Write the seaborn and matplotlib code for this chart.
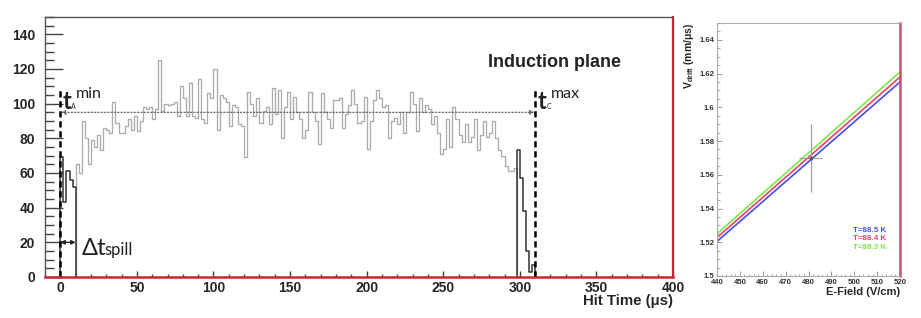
import numpy as np
import pandas as pd
import matplotlib
matplotlib.use("Agg")
import matplotlib.pyplot as plt
from matplotlib.ticker import MultipleLocator, FuncFormatter
import seaborn as sns

# ---------------- data ----------------
bin_width = 2.0  # microseconds
# spill region at start (0-10 us), black
spill_start = 0.0
spill_counts = [69, 43, 61, 56, 52]
# drift region (10-298 us), grey
drift_start = 10.0
drift_counts = [65, 60, 90, 80, 65, 79, 75, 82, 73, 86, 85, 83, 101, 89, 83, 83, 87, 91, 85, 93,
                84, 90, 98, 97, 98,
                91, 97, 125, 96, 100, 99, 100, 101, 93, 110, 103, 93, 112, 93, 92, 114, 91, 89, 106, 103,
                120, 85, 105, 103, 101, 87, 99, 98, 88, 87, 69, 107, 100, 93, 103, 89, 96, 98, 88, 109,
                94, 108, 80, 98, 107, 91,
                104, 95, 91, 80, 85, 107, 95, 90, 77, 106, 95, 91, 86, 102, 102, 103, 86, 94, 99, 108,
                100, 89, 90, 104, 74, 90, 102, 108,
                103, 98, 99, 80, 90, 92, 88, 95, 83, 95, 107, 100, 84, 103, 95, 99, 97, 88, 93, 83,
                71, 74, 91, 75, 98, 91, 82, 78, 88, 78, 81, 91, 73, 82, 90, 81, 83, 90, 80, 73,
                70, 64, 61, 61, 63]
# tail region (298-310 us), black
tail_start = 298.0
tail_counts = [73, 57, 38, 15, 3, 7]

t_min = 0.0
t_max = 310.0
plateau = 95.0
spill_end = 10.0

# right panel: drift velocity vs field
efield = [440, 520]
v_885 = [1.5205, 1.615]
v_884 = [1.5228, 1.618]
v_883 = [1.525, 1.621]
temps = ["T=88.5 K", "T=88.4 K", "T=88.3 K"]
temp_colors = ["#4a4af0", "#f0406a", "#7ee84a"]
meas_E, meas_E_err = 481.0, 5.0
meas_v, meas_v_err = 1.570, 0.020

# ---------------- style ----------------
sns.set_theme(style="white")
plt.rcParams["font.family"] = ["Liberation Sans", "DejaVu Sans"]
plt.rcParams["mathtext.fontset"] = "custom"
plt.rcParams["mathtext.rm"] = "Liberation Sans"
plt.rcParams["mathtext.bf"] = "Liberation Sans:bold"
plt.rcParams["mathtext.it"] = "Liberation Sans:italic"

fig = plt.figure(figsize=(9.21, 3.18), dpi=100)
ax = fig.add_axes([45 / 921, 41 / 318, 628 / 921, 260 / 318])
ax2 = fig.add_axes([717 / 921, 42 / 318, 183 / 921, 253 / 318])


def draw_hist(a, start, counts, color, lw):
    n = len(counts)
    centers = start + bin_width * (np.arange(n) + 0.5)
    d = pd.DataFrame({"t": centers, "n": np.asarray(counts, dtype=float)})
    sns.histplot(data=d, x="t", weights="n", binwidth=bin_width,
                 binrange=(start, start + bin_width * n), element="step", fill=False,
                 color=color, linewidth=lw, ax=a)
    # close the outline down to zero at both ends
    a.vlines([start, start + bin_width * n], 0, [counts[0], counts[-1]], colors=color, lw=lw)


draw_hist(ax, drift_start, drift_counts, "#adadad", 0.95)
draw_hist(ax, spill_start, spill_counts, "#333333", 1.1)
draw_hist(ax, tail_start, tail_counts, "#333333", 1.1)

ax.set_xlim(-10, 400)
ax.set_ylim(0, 150)
ax.set_ylabel("")
ax.yaxis.set_major_locator(MultipleLocator(20))
ax.yaxis.set_minor_locator(MultipleLocator(5))
ax.xaxis.set_major_locator(MultipleLocator(50))
ax.xaxis.set_minor_locator(MultipleLocator(10))
ax.tick_params(axis="y", which="major", direction="in", length=13, width=1.0, color="#444444",
               labelsize=10, pad=7, left=True)
ax.tick_params(axis="y", which="minor", direction="in", length=6.5, width=1.0, color="#444444", left=True)
ax.tick_params(axis="x", which="major", direction="in", length=4.5, width=1.0, color="#444444",
               labelsize=10, pad=3, bottom=True)
ax.tick_params(axis="x", which="minor", direction="in", length=2.2, width=1.0, color="#444444", bottom=True)
for lab in ax.get_xticklabels() + ax.get_yticklabels():
    lab.set_fontweight("bold")
for s in ["left", "top"]:
    ax.spines[s].set_color("#555555")
    ax.spines[s].set_linewidth(1.0)
ax.spines["bottom"].set_color("#c8262e")
ax.spines["bottom"].set_linewidth(1.8)
ax.spines["right"].set_color("#c8262e")
ax.spines["right"].set_linewidth(1.6)
ax.set_xlabel("Hit Time (μs)", loc="right", fontsize=10.8, fontweight="bold", labelpad=-1)

# dashed limits
ax.plot([t_min, t_min], [0, 108], ls=(0, (2.5, 1.5)), color="black", lw=1.8)
ax.plot([t_max, t_max], [0, 108], ls=(0, (2.5, 1.5)), color="black", lw=1.8)
# dotted plateau with arrowheads
ax.annotate("", xy=(t_min + 0.5, plateau), xytext=(t_max - 0.5, plateau),
            arrowprops=dict(arrowstyle="<|-|>", linestyle=":", color="#666666", lw=0.9,
                            mutation_scale=6, shrinkA=0, shrinkB=0))
# spill arrow
ax.annotate("", xy=(t_min, 20), xytext=(spill_end, 20),
            arrowprops=dict(arrowstyle="<|-|>", color="#222222", lw=1.0,
                            mutation_scale=6, shrinkA=0, shrinkB=0))

hfont = ["Lato", "DejaVu Sans"]
ax.text(1.5, 97, "t", fontsize=17, family=hfont, fontweight="bold", color="#222222", va="baseline")
ax.text(7.2, 97, "A", fontsize=5, family=hfont, color="#222222", va="baseline")
ax.text(10.0, 103, "min", fontsize=11.5, family=hfont, color="#222222", va="baseline")
ax.text(311.5, 97, "t", fontsize=17, family=hfont, fontweight="bold", color="#222222", va="baseline")
ax.text(317.2, 97, "C", fontsize=5, family=hfont, color="#222222", va="baseline")
ax.text(320.0, 103, "max", fontsize=11.5, family=hfont, color="#222222", va="baseline")
ax.text(14.0, 12.5, "Δt", fontsize=17, family=hfont, color="#222222", va="baseline")
ax.text(28.5, 12.5, "spill", fontsize=12, family=hfont, color="#222222", va="baseline")
ax.text(279, 121, "Induction plane", fontsize=13, fontweight="bold", color="#222222", va="baseline")

# ---------------- right panel ----------------
df = pd.DataFrame({
    "E": efield * 3,
    "v": v_885 + v_884 + v_883,
    "T": [temps[0]] * 2 + [temps[1]] * 2 + [temps[2]] * 2,
})
sns.lineplot(data=df, x="E", y="v", hue="T", hue_order=temps, palette=temp_colors,
             legend=False, linewidth=1.2, ax=ax2)
ax2.errorbar([meas_E], [meas_v], xerr=[meas_E_err], yerr=[meas_v_err], fmt="none",
             ecolor="#a0a0a0", elinewidth=0.9, capsize=0)
ax2.plot([meas_E], [meas_v], marker=(3, 0, 90), ms=2.5, color="#555555", ls="none")

ax2.set_xlim(440, 520)
ax2.set_ylim(1.5, 1.65)
ax2.xaxis.set_major_locator(MultipleLocator(10))
ax2.xaxis.set_minor_locator(MultipleLocator(2))
ax2.yaxis.set_major_locator(MultipleLocator(0.02))
ax2.yaxis.set_minor_locator(MultipleLocator(0.005))
ax2.yaxis.set_major_formatter(FuncFormatter(lambda v, p: f"{v:g}"))
ax2.tick_params(axis="both", which="major", direction="in", length=3.5, width=0.7, color="#999999",
                labelsize=5.6, labelcolor="#333333", pad=2, left=True, bottom=True)
ax2.tick_params(axis="both", which="minor", direction="in", length=1.8, width=0.6, color="#999999",
                left=True, bottom=True)
for lab in ax2.get_xticklabels() + ax2.get_yticklabels():
    lab.set_fontweight("bold")
for s in ["left", "top", "bottom"]:
    ax2.spines[s].set_color("#aaaaaa")
    ax2.spines[s].set_linewidth(0.8)
ax2.spines["right"].set_color("#c8506a")
ax2.spines["right"].set_linewidth(1.8)

ax2.set_xlabel("E-Field (V/cm)", loc="right", fontsize=8, fontweight="bold", labelpad=1)
ax2.set_ylabel(r"$\mathbf{V}_{\mathbf{drift}}$ (mm/μs)", loc="top", fontsize=7.5,
               fontweight="bold", labelpad=2)

for name, col, yy in zip(temps, temp_colors, [1.527, 1.522, 1.517]):
    ax2.text(499.5, yy, name, fontsize=5.8, fontweight="bold", color=col, va="center")

fig.savefig("out.png", dpi=100)
